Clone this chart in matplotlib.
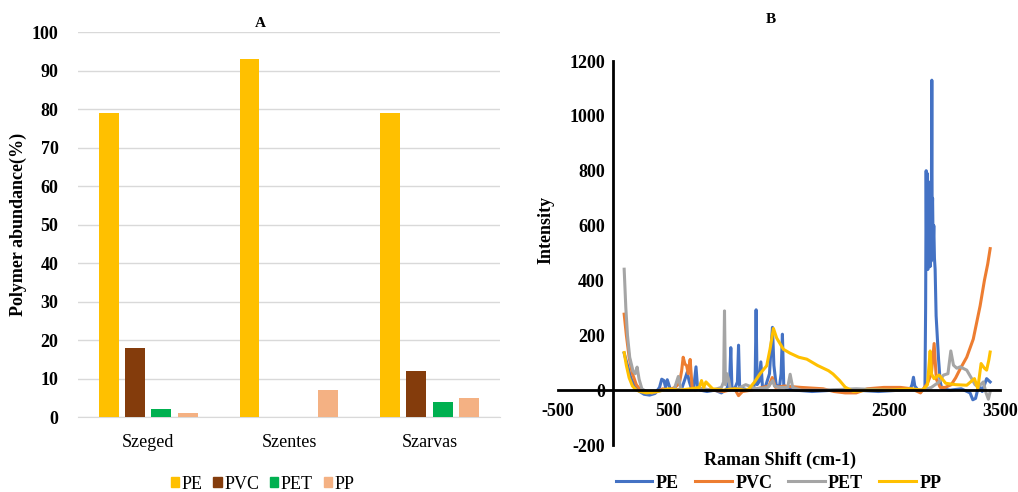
import numpy as np
import matplotlib.pyplot as plt
from matplotlib.patches import Patch
from matplotlib.lines import Line2D

plt.rcParams['font.family'] = ['Liberation Serif', 'DejaVu Serif']
plt.rcParams['axes.unicode_minus'] = False

# ---- panel A: polymer abundance per site ----
sites = ['Szeged', 'Szentes', 'Szarvas']
polymers = ['PE', 'PVC', 'PET', 'PP']
pe_pct = [79, 93, 79]
pvc_pct = [18, 0, 12]
pet_pct = [2, 0, 4]
pp_pct = [1, 7, 5]
bar_colors = ['#FFC000', '#843C0C', '#00B050', '#F4B183']

# ---- panel B: Raman spectra (Raman shift, intensity) ----
pe_x = [100, 130, 160, 200, 240, 280, 330, 380, 420, 440, 460, 475, 490, 520, 560,
        620, 650, 670, 690, 710, 730, 750, 765, 790, 850, 920, 980, 1030, 1055, 1065,
        1075, 1100, 1125, 1135, 1145, 1180, 1230, 1270, 1285, 1294, 1303, 1320, 1337,
        1352, 1380, 1415, 1430, 1442, 1455, 1475, 1505, 1520, 1532, 1544, 1570, 1650,
        1800, 2000, 2200, 2400, 2600, 2690, 2705, 2718, 2730, 2760, 2800, 2822, 2828,
        2833, 2838, 2843, 2848, 2853, 2858, 2863, 2868, 2873, 2878, 2882, 2884, 2887,
        2891, 2896, 2902, 2908, 2914, 2923, 2945, 2960, 2975, 3050, 3150, 3230, 3255,
        3280, 3310, 3340, 3380, 3412]
pe_y = [135, 90, 45, 10, -5, -15, -18, -12, 10, 40, 35, 10, 38, 0, 0,
        5, 40, 65, 30, 5, 10, 85, 5, 0, -5, 0, -10, 5, 40, 155,
        10, 5, 30, 164, 10, 5, 0, 10, 30, 293, 20, 30, 103,
        10, 15, 60, 160, 229, 90, 20, 10, 60, 204, 20, 5, 0,
        -5, 0, 0, -5, 0, 5, 20, 47, 15, 0, 0, 10, 300,
        800, 450, 790, 440, 760, 460, 720, 450, 680, 470, 900, 1130, 640,
        700, 520, 600, 480, 441, 271, 113, 30, 5, 0, 5, -10, -35,
        -30, 20, -5, 42, 30]

pvc_x = [100, 120, 145, 175, 210, 250, 300, 350, 400, 450, 500, 560, 600, 620, 634,
         650, 665, 680, 697, 715, 740, 800, 900, 1000, 1100, 1135, 1170, 1250, 1350,
         1410, 1440, 1470, 1550, 1700, 1900, 2000, 2100, 2200, 2300, 2450, 2600, 2700,
         2782, 2843, 2880, 2905, 2925, 2960, 3005, 3060, 3100, 3140, 3200, 3259, 3321,
         3360, 3390, 3412]
pvc_y = [277, 200, 120, 60, 20, 0, -5, -10, -5, 5, 0, 10, 25, 70, 120,
         95, 90, 60, 112, 10, 0, 5, 0, -5, 5, -20, -5, 0, 10,
         15, 46, 10, 15, 10, 5, -5, -10, -10, 5, 10, 10, 5,
         -10, 24, 60, 170, 40, 10, 10, 20, 45, 77, 120, 186, 307,
         400, 460, 516]

pet_x = [100, 115, 130, 150, 180, 200, 217, 235, 260, 300, 350, 450, 550, 590, 605,
         620, 700, 800, 900, 980, 1000, 1008, 1016, 1030, 1045, 1060, 1100, 1200, 1300,
         1400, 1445, 1460, 1500, 1580, 1602, 1625, 1700, 1900, 2200, 2500, 2800, 2880,
         2950, 2990, 3030, 3056, 3080, 3110, 3140, 3200, 3245, 3275, 3305, 3350, 3375,
         3396, 3412]
pet_y = [441, 300, 200, 120, 70, 60, 84, 40, 5, -5, -10, 0, 0, 50, 20,
         0, 0, 5, 0, 10, 30, 289, 20, 60, 40, 5, 0, 20, 5,
         10, 35, 15, 10, 10, 58, 10, 0, 0, 5, 0, 0, 10,
         30, 55, 60, 143, 91, 80, 85, 73, 42, 20, 12, 30, -10,
         -33, -5]

pp_x = [100, 120, 145, 175, 210, 245, 300, 350, 400, 450, 500, 600, 700, 780, 800,
        820, 840, 900, 1000, 1100, 1200, 1230, 1280, 1330, 1390, 1420, 1451, 1480,
        1541, 1600, 1680, 1753, 1850, 1949, 1990, 2050, 2100, 2175, 2300, 2500, 2700,
        2800, 2845, 2869, 2880, 2904, 2930, 2950, 3010, 3100, 3200, 3270, 3300, 3330,
        3360, 3380, 3400, 3412]
pp_y = [137, 90, 45, 15, 0, -5, -10, -8, -5, 0, 5, 0, 5, 10, 35,
        10, 30, 5, 0, 5, 0, 5, 30, 60, 89, 150, 225, 190,
        149, 135, 120, 113, 90, 71, 59, 35, 11, -5, 0, 0, 5,
        0, 20, 143, 60, 42, 50, 55, 25, 20, 18, 42, 6, 97,
        80, 73, 110, 139]

spectra = [('PE', pe_x, pe_y, '#4472C4'),
           ('PVC', pvc_x, pvc_y, '#ED7D31'),
           ('PET', pet_x, pet_y, '#A5A5A5'),
           ('PP', pp_x, pp_y, '#FFC000')]

fig = plt.figure(figsize=(10.18, 4.92), dpi=100)

# bar chart
axA = fig.add_axes([0.0766, 0.1524, 0.4145, 0.7825])
xpos = np.arange(len(sites))
bw, step = 0.142, 0.187
for i, vals in enumerate([pe_pct, pvc_pct, pet_pct, pp_pct]):
    axA.bar(xpos + (i - 1.5) * step, vals, width=bw, color=bar_colors[i], zorder=3)
axA.set_xlim(-0.5, 2.5)
axA.set_ylim(0, 100)
axA.set_yticks(range(0, 101, 10))
axA.set_xticks(xpos)
axA.set_xticklabels(sites, fontsize=13)
axA.yaxis.grid(True, color='#D9D9D9', lw=1, zorder=0)
for s in ['top', 'right', 'left']:
    axA.spines[s].set_visible(False)
axA.spines['bottom'].set_color('#D9D9D9')
axA.tick_params(axis='both', length=0)
axA.tick_params(axis='x', pad=12)
axA.tick_params(axis='y', pad=14)
for lab in axA.get_yticklabels():
    lab.set_fontweight('bold')
    lab.set_fontsize(13)
axA.set_ylabel('Polymer abundance(%)', fontsize=13, fontweight='bold')
axA.yaxis.set_label_coords(-0.121, 0.5)
fig.text(0.256, 0.953, 'A', ha='center', va='center', fontsize=11, fontweight='bold')
fig.legend(handles=[Patch(color=c, label=p) for p, c in zip(polymers, bar_colors)],
           loc='center', bbox_to_anchor=(0.258, 0.016), ncol=4, frameon=False,
           fontsize=13, handlelength=0.45, handleheight=0.45, handletextpad=0.15,
           columnspacing=0.6)

# spectra
axB = fig.add_axes([0.548, 0.0955, 0.4342, 0.7805])
for name, xs, ys, c in spectra:
    axB.plot(xs, ys, color=c, lw=2.2, label=name)
axB.set_xlim(-500, 3500)
axB.set_ylim(-200, 1200)
axB.set_xticks([-500, 500, 1500, 2500, 3500])
axB.set_yticks(range(-200, 1201, 200))
axB.spines['left'].set_position(('data', 0))
axB.spines['bottom'].set_position(('data', 0))
axB.spines['top'].set_visible(False)
axB.spines['right'].set_visible(False)
axB.spines['left'].set_linewidth(2)
axB.spines['bottom'].set_linewidth(2)
axB.tick_params(axis='both', length=0, labelsize=13)
axB.tick_params(axis='x', pad=9)
axB.tick_params(axis='y', pad=6)
for lab in axB.get_xticklabels() + axB.get_yticklabels():
    lab.set_fontweight('bold')
axB.set_ylabel('Intensity', fontsize=13, fontweight='bold')
axB.yaxis.set_label_coords(-0.008, 0.56)
axB.set_xlabel('Raman Shift (cm-1)', fontsize=13, fontweight='bold')
axB.xaxis.set_label_coords(0.502, -0.018)
fig.text(0.757, 0.961, 'B', ha='center', va='center', fontsize=11, fontweight='bold')
fig.legend(handles=[Line2D([], [], color=c, lw=2.2, label=n) for n, _, _, c in spectra],
           loc='center', bbox_to_anchor=(0.765, 0.018), ncol=4, frameon=False,
           prop={'size': 13, 'weight': 'bold'}, handlelength=2.0, handletextpad=0.2,
           columnspacing=0.9)

fig.savefig('out.png', dpi=100)
